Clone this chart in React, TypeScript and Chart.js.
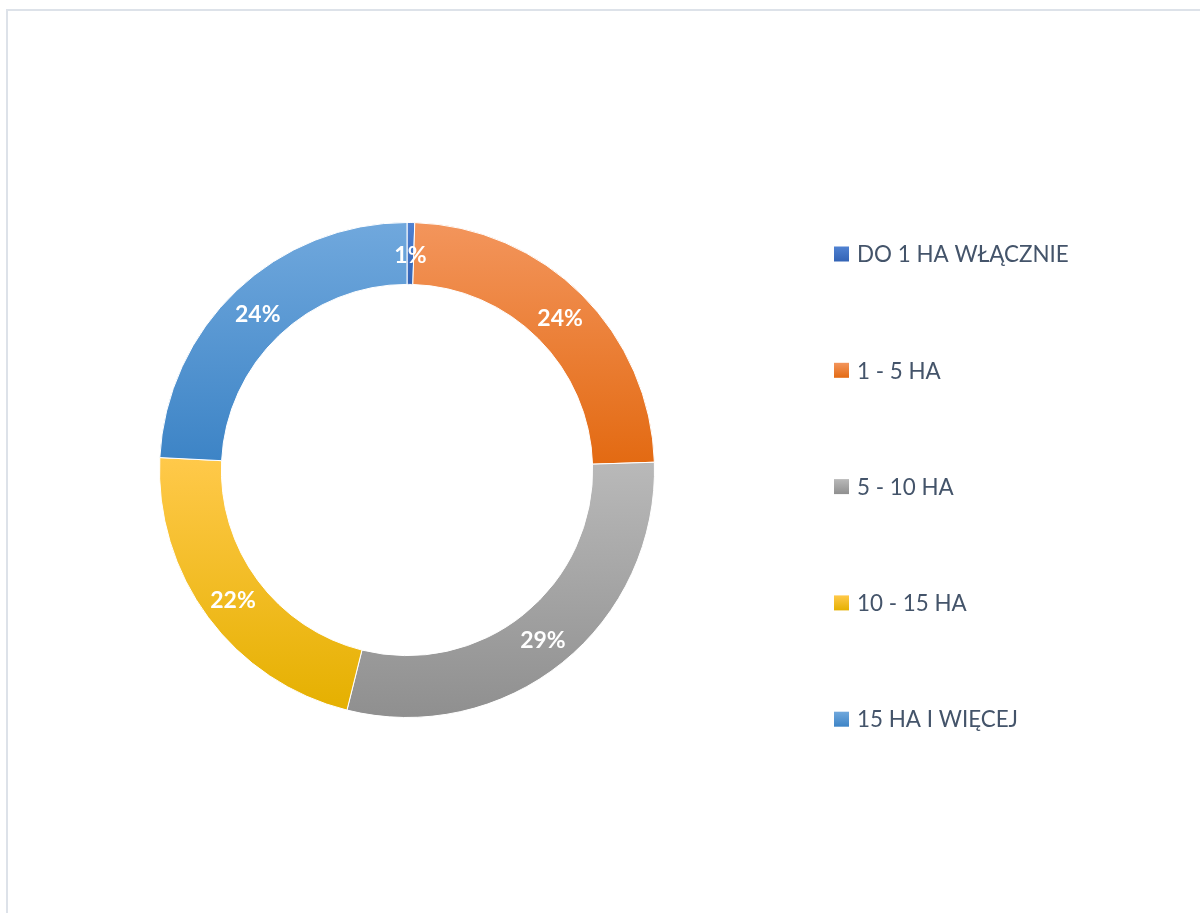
import React, { useEffect, useRef } from "react";
import { Chart, registerables } from "chart.js";

Chart.register(...registerables);

// ---- data ----
const categories = ["DO 1 HA WŁĄCZNIE", "1 - 5 HA", "5 - 10 HA", "10 - 15 HA", "15 HA I WIĘCEJ"];
const shares = [0.5, 24, 29.4, 21.9, 24.2];
const percentLabels = ["1%", "24%", "29%", "22%", "24%"];

// ---- styles ----
const gradientTop = ["#5082D2", "#F3955C", "#B9B9B9", "#FFC94A", "#70A8DD"];
const gradientBottom = ["#3363B5", "#E36A12", "#8F8F8F", "#E5B000", "#3D84C6"];
const FONT = "Lato, 'Open Sans', sans-serif";

const sliceGradient = (ctx: CanvasRenderingContext2D, y0: number, y1: number, i: number) => {
  const g = ctx.createLinearGradient(0, y0, 0, y1);
  g.addColorStop(0, gradientTop[i]);
  g.addColorStop(1, gradientBottom[i]);
  return g;
};

const gradientPlugin = {
  id: "sliceGradient",
  beforeDatasetsDraw(chart: any) {
    const meta = chart.getDatasetMeta(0);
    const ctx = chart.ctx;
    meta.data.forEach((el: any, i: number) => {
      const { y, startAngle, endAngle, innerRadius, outerRadius } = el.getProps(
        ["y", "startAngle", "endAngle", "innerRadius", "outerRadius"],
        true
      );
      let minY = Infinity;
      let maxY = -Infinity;
      const steps = 90;
      for (let s = 0; s <= steps; s++) {
        const a = startAngle + ((endAngle - startAngle) * s) / steps;
        for (const r of [innerRadius, outerRadius]) {
          const py = y + Math.sin(a) * r;
          if (py < minY) minY = py;
          if (py > maxY) maxY = py;
        }
      }
      el.options.backgroundColor = sliceGradient(ctx, minY, maxY, i);
    });
  },
};

const labelPlugin = {
  id: "sliceLabels",
  afterDatasetsDraw(chart: any) {
    const meta = chart.getDatasetMeta(0);
    const ctx = chart.ctx;
    ctx.save();
    ctx.fillStyle = "#FFFFFF";
    ctx.font = `bold 23px ${FONT}`;
    ctx.textAlign = "center";
    ctx.textBaseline = "middle";
    meta.data.forEach((el: any, i: number) => {
      const p = el.tooltipPosition(true);
      ctx.fillText(percentLabels[i], p.x, p.y + 2);
    });
    ctx.restore();
  },
};

const legendPlugin = {
  id: "sideLegend",
  afterDraw(chart: any) {
    const ctx = chart.ctx;
    const boxX = 834;
    const boxSize = 15;
    const firstY = 254;
    const stepY = 116.3;
    ctx.save();
    ctx.font = `22.4px ${FONT}`;
    ctx.textBaseline = "middle";
    ctx.textAlign = "left";
    (chart.data.labels as string[]).forEach((label, i) => {
      const cy = firstY + i * stepY;
      ctx.fillStyle = sliceGradient(ctx, cy - boxSize / 2, cy + boxSize / 2, i);
      ctx.fillRect(boxX, cy - boxSize / 2, boxSize, boxSize);
      ctx.fillStyle = "#44546A";
      ctx.fillText(label, boxX + 23, cy + 1);
    });
    ctx.restore();
  },
};

export default function App() {
  const canvasRef = useRef<HTMLCanvasElement | null>(null);

  useEffect(() => {
    if (!canvasRef.current) return;
    const chart = new Chart(canvasRef.current, {
      type: "doughnut",
      data: {
        labels: categories,
        datasets: [
          {
            data: shares,
            backgroundColor: (c: any) => gradientTop[c.dataIndex],
            borderColor: "#FFFFFF",
            borderWidth: 1,
          },
        ],
      },
      options: {
        responsive: false,
        animation: false,
        cutout: "75%",
        layout: { padding: { left: 159, top: 222, right: 545, bottom: 195 } },
        plugins: {
          legend: { display: false },
          tooltip: { enabled: false },
        },
      },
      plugins: [gradientPlugin, labelPlugin, legendPlugin],
    });
    return () => chart.destroy();
  }, []);

  return (
    <div style={{ position: "fixed", left: 0, top: 0, width: 1200, height: 913, overflow: "hidden", background: "#FFFFFF" }}>
      <div
        style={{
          position: "absolute",
          left: 6,
          top: 9,
          width: 1300,
          height: 1000,
          border: "2px solid #DDE2E9",
          boxSizing: "border-box",
        }}
      />
      <canvas ref={canvasRef} width={1200} height={913} style={{ position: "absolute", left: 0, top: 0 }} />
    </div>
  );
}
